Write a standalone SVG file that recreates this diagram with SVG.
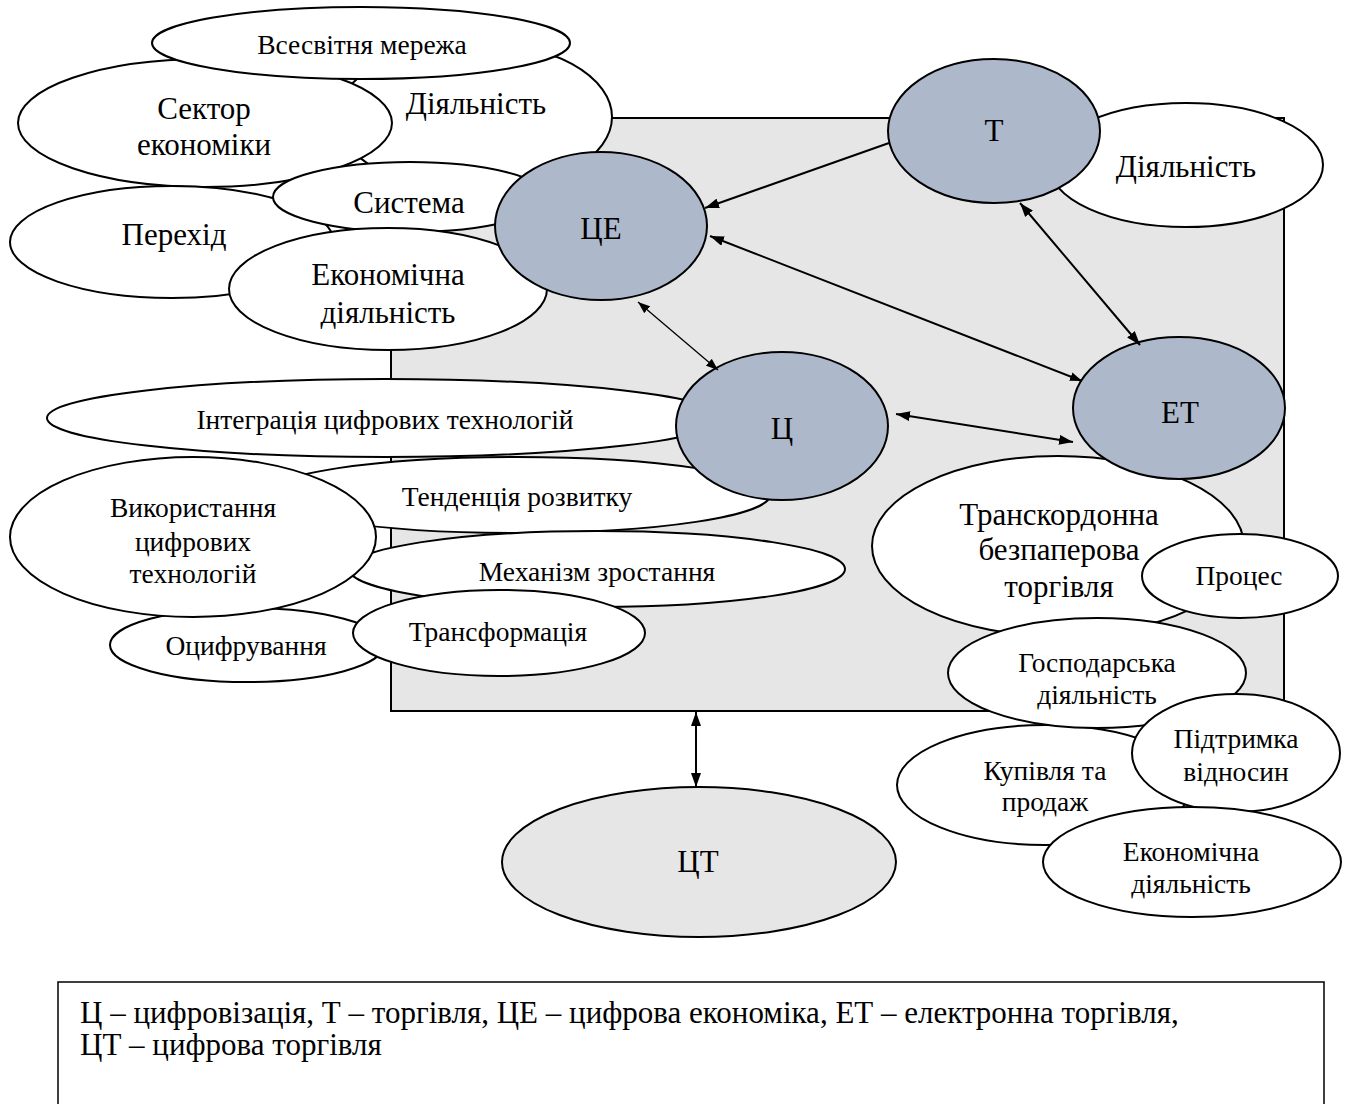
<svg xmlns="http://www.w3.org/2000/svg" width="1349" height="1104" viewBox="0 0 1349 1104">
  <style>
    .w { fill: #ffffff; stroke: #000000; stroke-width: 2; }
    .g { fill: #adb9ca; stroke: #000000; stroke-width: 2; }
    .lg { fill: #e6e6e6; stroke: #000000; stroke-width: 2; }
    text { font-family: "Liberation Serif", "Times New Roman", serif; fill: #000000; text-anchor: middle; dominant-baseline: central; }
    .s27 { font-size: 27.5px; }
    .s31 { font-size: 31px; }
    .conn { stroke: #000000; stroke-width: 2; fill: none; }
    .thin { stroke-width: 1.3; }
  </style>
  <defs>
    <marker id="arrow" viewBox="0 0 14 10" refX="14" refY="5" markerWidth="14" markerHeight="10" markerUnits="userSpaceOnUse" orient="auto-start-reverse">
      <path d="M0,0 L14,5 L0,10 z" fill="#000000"/>
    </marker>
    <marker id="arrowSmall" viewBox="0 0 12 9" refX="12" refY="4.5" markerWidth="12" markerHeight="9" markerUnits="userSpaceOnUse" orient="auto-start-reverse">
      <path d="M0,0 L12,4.5 L0,9 z" fill="#000000"/>
    </marker>
  </defs>

  <rect id="frame" x="391" y="118" width="893" height="593" fill="#e6e6e6" stroke="#000000" stroke-width="2"/>

  <!-- upper-left group around ЦЕ -->
  <g id="n-diialnist-1"><ellipse class="w" cx="475" cy="117" rx="137" ry="75"/><text class="s31" x="476" y="103">Діяльність</text></g>
  <g id="n-sektor"><ellipse class="w" cx="205" cy="123" rx="187" ry="64"/><text class="s31" x="204" y="108">Сектор</text><text class="s31" x="204" y="144">економіки</text></g>
  <g id="n-merezha"><ellipse class="w" cx="361" cy="43" rx="209" ry="36"/><text class="s27" x="362" y="44">Всесвітня мережа</text></g>
  <g id="n-perekhid"><ellipse class="w" cx="172" cy="242" rx="162" ry="56"/><text class="s31" x="174" y="234">Перехід</text></g>
  <g id="n-systema"><ellipse class="w" cx="410" cy="197" rx="137" ry="35"/><text class="s31" x="409" y="202">Система</text></g>
  <g id="n-ekon-1"><ellipse class="w" cx="388" cy="289" rx="159" ry="61"/><text class="s31" x="388" y="274">Економічна</text><text class="s31" x="388" y="312">діяльність</text></g>
  <g id="n-CE"><ellipse class="g" cx="601" cy="226" rx="106" ry="74"/><text class="s31" x="601" y="228">ЦЕ</text></g>

  <!-- lower-left group around Ц -->
  <g id="n-intehratsiia"><ellipse class="w" cx="385" cy="418" rx="338" ry="39"/><text class="s27" x="385" y="419">Інтеграція цифрових технологій</text></g>
  <g id="n-otsyfruvannia"><ellipse class="w" cx="247" cy="645" rx="137" ry="37"/><text class="s27" x="246" y="645">Оцифрування</text></g>
  <g id="n-tendentsiia"><ellipse class="w" cx="517" cy="495" rx="253" ry="38"/><text class="s27" x="517" y="496">Тенденція розвитку</text></g>
  <g id="n-mekhanizm"><ellipse class="w" cx="597" cy="569" rx="248" ry="38"/><text class="s27" x="597" y="571">Механізм зростання</text></g>
  <g id="n-transformatsiia"><ellipse class="w" cx="499" cy="633" rx="146" ry="43"/><text class="s27" x="498" y="631">Трансформація</text></g>
  <g id="n-vykorystannia"><ellipse class="w" cx="193" cy="537" rx="183" ry="80"/><text class="s27" x="193" y="507">Використання</text><text class="s27" x="193" y="541">цифрових</text><text class="s27" x="193" y="573">технологій</text></g>
  <g id="n-C"><ellipse class="g" cx="782" cy="426" rx="106" ry="74"/><text class="s31" x="782" y="428">Ц</text></g>

  <!-- right group around Т and ЕТ -->
  <g id="n-diialnist-2"><ellipse class="w" cx="1186" cy="165" rx="137" ry="62"/><text class="s31" x="1186" y="166">Діяльність</text></g>
  <g id="n-T"><ellipse class="g" cx="994" cy="131" rx="106" ry="72"/><text class="s31" x="994" y="130">Т</text></g>
  <g id="n-transkordonna"><ellipse class="w" cx="1058" cy="546" rx="186" ry="90"/><text class="s31" x="1059" y="514">Транскордонна</text><text class="s31" x="1059" y="549">безпаперова</text><text class="s31" x="1059" y="586">торгівля</text></g>
  <g id="n-ET"><ellipse class="g" cx="1179" cy="408" rx="106" ry="71"/><text class="s31" x="1180" y="412">ЕТ</text></g>
  <g id="n-protses"><ellipse class="w" cx="1240" cy="576" rx="98" ry="42"/><text class="s27" x="1239" y="575">Процес</text></g>
  <g id="n-kupivlia"><ellipse class="w" cx="1045" cy="785" rx="148" ry="60"/><text class="s27" x="1045" y="770">Купівля та</text><text class="s27" x="1045" y="801">продаж</text></g>
  <g id="n-hospodarska"><ellipse class="w" cx="1097" cy="673" rx="149" ry="55"/><text class="s27" x="1097" y="662">Господарська</text><text class="s27" x="1097" y="694">діяльність</text></g>
  <g id="n-pidtrymka"><ellipse class="w" cx="1236" cy="753" rx="104" ry="59"/><text class="s27" x="1236" y="738">Підтримка</text><text class="s27" x="1236" y="771">відносин</text></g>
  <g id="n-ekon-2"><ellipse class="w" cx="1192" cy="862" rx="149" ry="55"/><text class="s27" x="1191" y="851">Економічна</text><text class="s27" x="1191" y="883">діяльність</text></g>

  <!-- result node below the frame -->
  <g id="n-CT"><ellipse class="lg" cx="699" cy="862" rx="197" ry="75"/><text class="s31" x="698" y="861">ЦТ</text></g>

  <!-- connectors -->
  <g id="connectors">
    <line class="conn" x1="889" y1="143" x2="705" y2="208" marker-end="url(#arrow)"/>
    <line class="conn" x1="710" y1="236" x2="1082" y2="381" marker-start="url(#arrow)" marker-end="url(#arrowSmall)"/>
    <line class="conn thin" x1="638" y1="302" x2="718" y2="370" marker-start="url(#arrowSmall)" marker-end="url(#arrowSmall)"/>
    <line class="conn" x1="1020" y1="203" x2="1140" y2="345" marker-start="url(#arrow)" marker-end="url(#arrow)"/>
    <line class="conn" x1="896" y1="414" x2="1073" y2="442" marker-start="url(#arrow)" marker-end="url(#arrow)"/>
    <line class="conn" x1="696" y1="712" x2="696" y2="787" marker-start="url(#arrow)" marker-end="url(#arrow)"/>
  </g>

  <!-- legend -->
  <g id="legend">
    <rect x="58" y="982" width="1266" height="140" fill="#ffffff" stroke="#000000" stroke-width="1.5"/>
    <text x="80" y="1012" style="text-anchor:start;font-size:31px">Ц – цифровізація, Т – торгівля, ЦЕ – цифрова економіка, ЕТ – електронна торгівля,</text>
    <text x="80" y="1044" style="text-anchor:start;font-size:31px">ЦТ – цифрова торгівля</text>
  </g>
</svg>
